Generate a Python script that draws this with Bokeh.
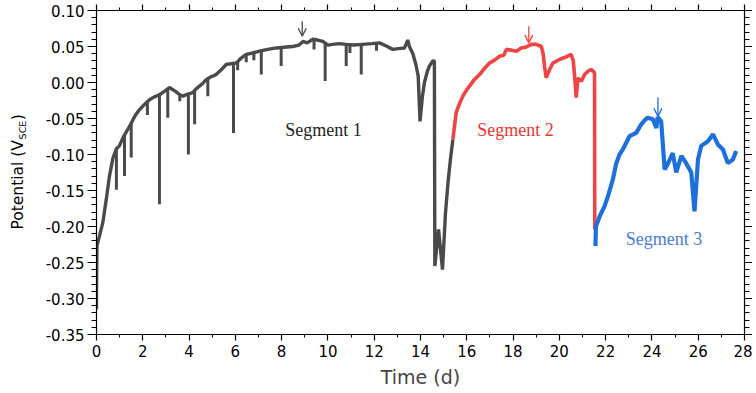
import math
from bokeh.plotting import figure
from bokeh.layouts import row
from bokeh.models import (ColumnDataSource, LinearAxis, FixedTicker, NumeralTickFormatter,
                          Range1d, Arrow, OpenHead)
from bokeh.core.properties import value
from bokeh.embed import file_html
from bokeh.resources import INLINE

# ---------------- data ----------------
seg1_t = [0.0, 0.0, 0.02, 0.13, 0.27, 0.42, 0.56, 0.71, 0.86, 0.99, 1.14, 1.3, 1.43, 1.57, 1.71,
          1.85, 2.0, 2.15, 2.29, 2.5, 2.72, 2.95, 3.15, 3.3, 3.44, 3.6, 3.73, 3.95, 4.16, 4.3,
          4.45, 4.6, 4.74, 4.95, 5.17, 5.4, 5.6, 5.8, 6.04, 6.25, 6.47, 6.75, 7.04, 7.4, 7.77,
          8.1, 8.48, 8.75, 8.92, 9.1, 9.35, 9.55, 9.78, 10.0, 10.2, 10.5, 10.79, 11.1, 11.5,
          11.9, 12.23, 12.5, 12.8, 13.05, 13.31, 13.45, 13.52, 13.67, 13.8, 13.9, 13.98, 14.08,
          14.17, 14.3, 14.39, 14.53, 14.6, 14.62, 14.78, 14.95, 15.08, 15.2, 15.3, 15.4]
seg1_v = [-0.315, -0.29, -0.227, -0.213, -0.195, -0.163, -0.13, -0.105, -0.092, -0.088, -0.077,
          -0.068, -0.061, -0.052, -0.044, -0.038, -0.033, -0.028, -0.024, -0.020, -0.017, -0.012,
          -0.007, -0.010, -0.013, -0.017, -0.019, -0.016, -0.014, -0.009, -0.005, -0.001, 0.004,
          0.008, 0.011, 0.018, 0.025, 0.026, 0.027, 0.034, 0.039, 0.041, 0.0435, 0.046, 0.048,
          0.049, 0.050, 0.052, 0.057, 0.055, 0.060, 0.059, 0.057, 0.052, 0.053, 0.054, 0.053,
          0.052, 0.053, 0.054, 0.055, 0.051, 0.046, 0.047, 0.048, 0.059, 0.050, 0.040, 0.025,
          0.009, -0.054, -0.020, 0.0, 0.016, 0.023, 0.030, 0.030, -0.255, -0.204, -0.260,
          -0.181, -0.135, -0.105, -0.079]

# downward spikes of segment 1: time, top, bottom
spike_t = [0.86, 1.21, 1.5, 2.2, 2.72, 3.08, 3.6, 3.97, 4.24, 4.81, 5.92, 6.1, 6.47, 6.8, 7.12,
           7.98, 9.4, 9.88, 10.79, 10.95, 11.44, 12.1]
spike_top = [-0.092, -0.073, -0.058, -0.027, -0.017, -0.008, -0.017, -0.016, -0.012, 0.005,
             0.026, 0.028, 0.039, 0.042, 0.044, 0.049, 0.059, 0.056, 0.053, 0.053, 0.053, 0.054]
spike_bottom = [-0.149, -0.130, -0.104, -0.045, -0.169, -0.049, -0.026, -0.100, -0.058, -0.019,
                -0.070, 0.017, 0.028, 0.031, 0.011, 0.023, 0.046, 0.002, 0.023, 0.041, 0.011, 0.044]

seg2_t = [15.4, 15.54, 15.7, 15.83, 16.0, 16.12, 16.3, 16.55, 16.75, 16.98, 17.2, 17.42, 17.6,
          17.71, 17.9, 18.14, 18.35, 18.55, 18.79, 19.0, 19.22, 19.3, 19.36, 19.43, 19.58, 19.72,
          20.0, 20.25, 20.51, 20.6, 20.66, 20.73, 20.8, 20.95, 21.09, 21.25, 21.37, 21.45, 21.52, 21.53]
seg2_v = [-0.079, -0.042, -0.028, -0.019, -0.010, -0.005, 0.003, 0.011, 0.019, 0.027, 0.031,
          0.0365, 0.038, 0.046, 0.045, 0.0435, 0.048, 0.049, 0.053, 0.053, 0.050, 0.040, 0.0226,
          0.0065, 0.018, 0.027, 0.032, 0.035, 0.039, 0.030, 0.0087, -0.021, 0.006, 0.0018, 0.011,
          0.016, 0.018, 0.016, 0.0135, -0.204]

seg3_t = [21.56, 21.58, 21.74, 21.95, 22.1, 22.31, 22.46, 22.6, 22.74, 22.9, 23.03, 23.32, 23.54,
          23.7, 23.82, 24.04, 24.19, 24.25, 24.40, 24.55, 24.7, 24.9, 25.05, 25.27, 25.48, 25.7,
          25.84, 25.99, 26.13, 26.42, 26.64, 26.85, 27.07, 27.28, 27.5, 27.64]
seg3_v = [-0.227, -0.200, -0.186, -0.172, -0.158, -0.135, -0.112, -0.100, -0.093, -0.083, -0.0746,
          -0.070, -0.058, -0.052, -0.049, -0.051, -0.063, -0.048, -0.054, -0.121, -0.112, -0.098,
          -0.125, -0.102, -0.112, -0.125, -0.179, -0.107, -0.088, -0.0815, -0.072, -0.086, -0.093,
          -0.112, -0.107, -0.095]

labels = ["Segment 1", "Segment 2", "Segment 3"]
label_t = [9.81, 18.1, 24.52]
label_v = [-0.0653, -0.0653, -0.218]

arrow_t = [8.89, 18.68, 24.26]
arrow_v_start = [0.085, 0.078, -0.021]
arrow_v_end = [0.0643, 0.055, -0.047]

x_ticks = [0, 2, 4, 6, 8, 10, 12, 14, 16, 18, 20, 22, 24, 26, 28]
y_ticks = [-0.35, -0.30, -0.25, -0.20, -0.15, -0.10, -0.05, 0.00, 0.05, 0.10]

y_title_parts = ["Potential (V", "SCE", ")"]

# ---------------- styling / layout ----------------
x_minor = [i for i in range(0, 29)]
y_minor = [round(-0.35 + 0.01 * i, 2) for i in range(46)]

GRAY = "#4a4a4a"
RED = "#ee4444"
BLUE = "#1e6fdc"
label_colors = ["#222222", "#ee3333", "#4b7bd4"]
arrow_colors = [GRAY, RED, BLUE]
SANS = "DejaVu Sans"
TITLE_W = 40
FRAME_H = 324
TOP = 10
BOTTOM = 56

p = figure(frame_width=648, frame_height=FRAME_H, output_backend="svg", toolbar_location=None,
           x_range=Range1d(0, 28), y_range=Range1d(-0.35, 0.10))
p.min_border_left = 96 - TITLE_W
p.min_border_right = 8
p.min_border_top = TOP
p.min_border_bottom = BOTTOM
p.xgrid.visible = False
p.ygrid.visible = False
p.outline_line_color = "black"
p.background_fill_color = "white"
p.border_fill_color = "white"

def style_axis(ax, labels_on, ticks, minor, tick_out, minor_out):
    ax.ticker = FixedTicker(ticks=ticks, minor_ticks=minor)
    ax.axis_line_color = "black"
    ax.axis_line_width = 1.2
    ax.major_tick_line_color = "black"
    ax.minor_tick_line_color = "black"
    ax.major_tick_line_width = 1.2
    ax.minor_tick_line_width = 1
    ax.major_tick_out = tick_out
    ax.major_tick_in = 0
    ax.minor_tick_out = minor_out
    ax.minor_tick_in = 0
    ax.major_label_text_font = SANS
    ax.major_label_text_font_size = "15px"
    ax.major_label_text_color = "black"
    if not labels_on:
        ax.major_label_text_color = None
        ax.major_label_text_font_size = "0px"

xa = p.xaxis[0]
style_axis(xa, True, x_ticks, x_minor, 6, 3)
xa.major_label_standoff = 4
xa.axis_label = "Time (d)"
xa.axis_label_text_font = SANS
xa.axis_label_text_font_size = "19px"
xa.axis_label_text_font_style = "normal"
xa.axis_label_standoff = 6

ya = p.yaxis[0]
style_axis(ya, True, y_ticks, y_minor, 9, 5)
ya.major_label_standoff = 3
ya.formatter = NumeralTickFormatter(format="0.00")

top = LinearAxis()
style_axis(top, False, x_ticks, x_minor, 6, 3)
p.add_layout(top, "above")
right = LinearAxis()
style_axis(right, False, y_ticks, y_minor, 8, 5)
p.add_layout(right, "right")

# data
p.line(seg1_t, seg1_v, line_color=GRAY, line_width=3.4)
p.segment(x0=spike_t, y0=spike_top, x1=spike_t, y1=spike_bottom, line_color=GRAY, line_width=3)
p.line(seg2_t, seg2_v, line_color=RED, line_width=3.6)
p.line(seg3_t, seg3_v, line_color=BLUE, line_width=4.2)

for i in range(len(arrow_t)):
    p.add_layout(Arrow(end=OpenHead(size=8, line_color=arrow_colors[i], line_width=1.3),
                       x_start=arrow_t[i], y_start=arrow_v_start[i],
                       x_end=arrow_t[i], y_end=arrow_v_end[i],
                       line_color=arrow_colors[i], line_width=1.3))

src = ColumnDataSource(dict(x=label_t, y=label_v, text=labels, color=label_colors))
p.text(x="x", y="y", text="text", text_color="color", source=src, text_align="center",
       text_baseline="alphabetic", text_font=value("Liberation Serif"), text_font_size="18px")

# narrow side figure holding the rotated y-axis title (with subscript) as real text
t = figure(frame_width=TITLE_W, frame_height=FRAME_H, output_backend="svg", toolbar_location=None,
           x_range=Range1d(0, TITLE_W), y_range=Range1d(-0.35, 0.10),
           x_axis_location=None, y_axis_location=None)
t.min_border_left = 0
t.min_border_right = 0
t.min_border_top = TOP
t.min_border_bottom = BOTTOM
t.xgrid.visible = False
t.ygrid.visible = False
t.outline_line_color = None
t.background_fill_color = "white"
t.border_fill_color = "white"
tsrc = ColumnDataSource(dict(x=[17, 21.5, 17], y=[-0.2042, -0.0790, -0.0525], text=y_title_parts,
                             size=["15.5px", "9.5px", "15.5px"]))
t.text(x="x", y="y", text="text", source=tsrc, angle=math.pi / 2, text_align="left",
       text_baseline="middle", text_font=value(SANS), text_font_size="size", text_color="black")

layout = row(t, p)
open("out.html", "w").write(file_html(layout, INLINE))
